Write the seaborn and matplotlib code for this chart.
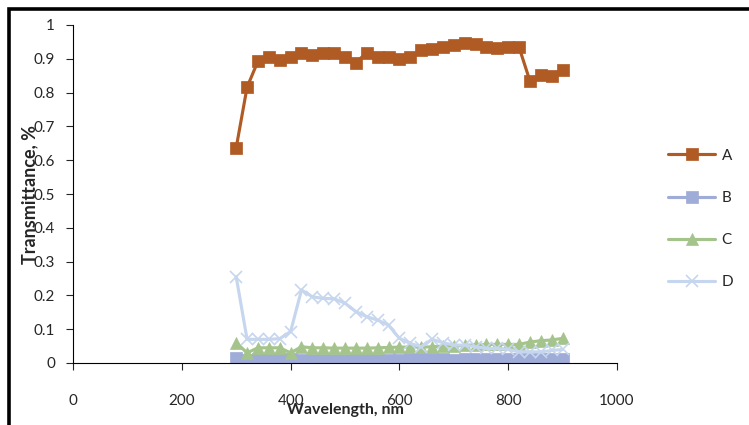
import numpy as np
import pandas as pd
import matplotlib
matplotlib.use("Agg")
import matplotlib.pyplot as plt
import seaborn as sns
from matplotlib.patches import Rectangle

# Data
wavelength = list(range(300, 901, 20))

series_a = [0.637, 0.816, 0.893, 0.904, 0.895, 0.906, 0.918, 0.911, 0.918, 0.918,
            0.906, 0.889, 0.918, 0.904, 0.904, 0.899, 0.904, 0.926, 0.929, 0.934,
            0.941, 0.946, 0.943, 0.936, 0.931, 0.934, 0.934, 0.834, 0.852, 0.849, 0.867]

series_b = [0.014, 0.008, 0.013, 0.013, 0.012, 0.011, 0.008, 0.009, 0.010, 0.010,
            0.009, 0.011, 0.011, 0.010, 0.009, 0.010, 0.011, 0.012, 0.012, 0.011,
            0.010, 0.011, 0.011, 0.012, 0.011, 0.011, 0.012, 0.012, 0.012, 0.012, 0.012]

series_c = [0.060, 0.030, 0.045, 0.045, 0.045, 0.030, 0.048, 0.045, 0.045, 0.044,
            0.044, 0.044, 0.044, 0.045, 0.046, 0.047, 0.047, 0.047, 0.048, 0.050,
            0.050, 0.052, 0.054, 0.055, 0.055, 0.055, 0.055, 0.062, 0.066, 0.068, 0.073]

series_d = [0.255, 0.070, 0.070, 0.070, 0.072, 0.093, 0.216, 0.196, 0.191, 0.190,
            0.177, 0.152, 0.137, 0.127, 0.112, 0.073, 0.058, 0.048, 0.070, 0.060,
            0.053, 0.053, 0.048, 0.043, 0.043, 0.040, 0.033, 0.033, 0.033, 0.037, 0.040]

labels = ["A", "B", "C", "D"]
colors = ["#B05A24", "#A0ACD8", "#A4C48C", "#C6D6EE"]
markers = ["s", "s", "^", "x"]

sns.set_style("ticks")
plt.rcParams['font.family'] = ['Lato', 'DejaVu Sans']

fig = plt.figure(figsize=(7.49, 4.25), dpi=100)
ax = fig.add_axes([73/749, 1 - 363/425, (617 - 73)/749, (363 - 25)/425])

for lab, vals, col, mk in zip(labels, [series_a, series_b, series_c, series_d], colors, markers):
    sns.lineplot(x=wavelength, y=vals, ax=ax, color=col, marker=mk, markersize=8,
                 markeredgecolor=col, markeredgewidth=1.2 if mk == "x" else 0.5,
                 linewidth=2.25, label=lab)

ax.set_xlim(0, 1000)
ax.set_ylim(0, 1)
ax.set_xticks([0, 200, 400, 600, 800, 1000])
ax.set_yticks(np.round(np.arange(0, 1.01, 0.1), 1))
ax.set_yticklabels(["0", "0.1", "0.2", "0.3", "0.4", "0.5", "0.6", "0.7", "0.8", "0.9", "1"])
ax.tick_params(axis="x", length=5, width=0.8, pad=17, labelsize=11)
ax.tick_params(axis="y", length=5, width=0.8, pad=8, labelsize=11)
sns.despine(ax=ax)
for s in ["left", "bottom"]:
    ax.spines[s].set_linewidth(0.8)
    ax.spines[s].set_color("black")

ax.set_xlabel("")
ax.set_ylabel("")
fig.text(345/749, 1 - 410/425, "Wavelength, nm", ha="center", va="center",
         fontsize=11.5, fontweight="bold")
fig.text(30/749, 1 - 195/425, "Transmittance, %", ha="center", va="center",
         rotation=90, fontsize=13, fontweight="bold")

ax.get_legend().remove()
handles, lbls = ax.get_legend_handles_labels()
fig.legend(handles, lbls, loc="center left", bbox_to_anchor=(668/749, 1 - 219/425),
           frameon=False, fontsize=11, handlelength=3.1, handletextpad=0.4,
           labelspacing=1.85, borderpad=0, borderaxespad=0)

# thick outer frame, cut off at right and bottom
fig.patches.append(Rectangle((9/749, -0.1), 1.2, 1 - 9/425 + 0.1, transform=fig.transFigure,
                             fill=False, edgecolor="black", linewidth=2.6))

fig.savefig("out.png", dpi=100)
